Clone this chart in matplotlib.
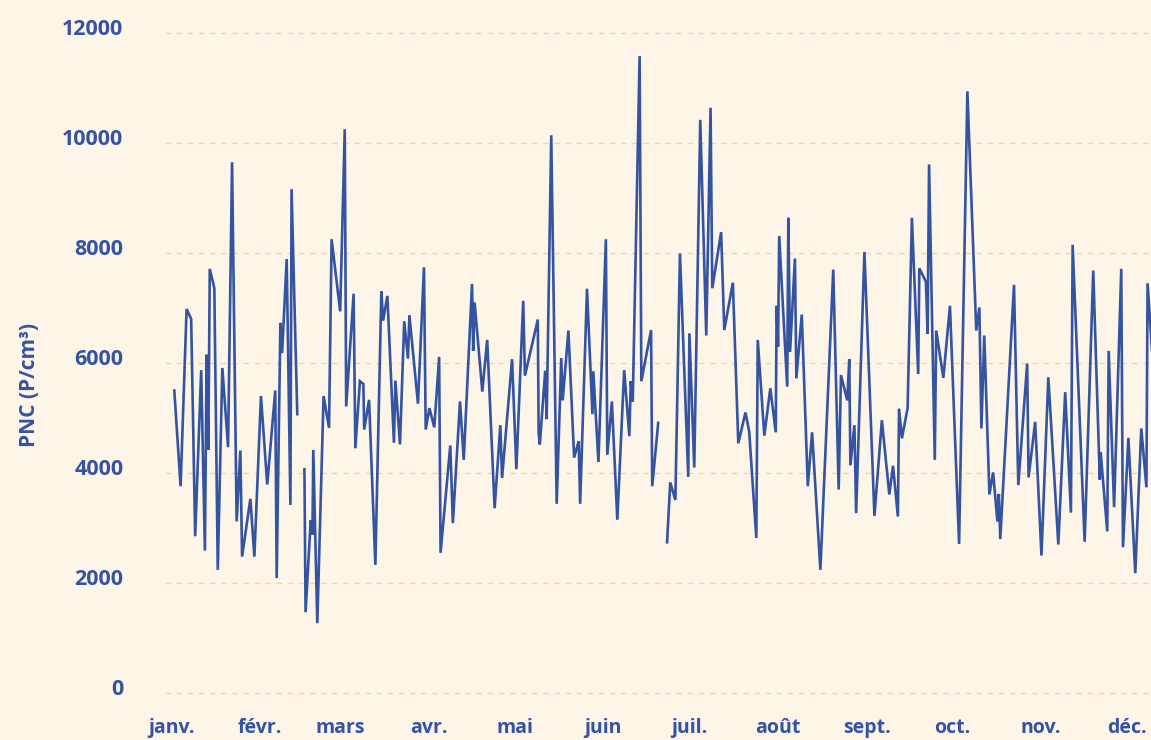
import numpy as np
import matplotlib
matplotlib.use("Agg")
import matplotlib.pyplot as plt
import matplotlib.transforms as mtransforms

# day of year (0 = 1 Jan) and particle number concentration; nan = missing data
days = [
    0.0, 2.2, 4.3, 5.9, 7.3, 9.4, 10.7, 11.3, 11.9, 12.4, 14.0, 15.2, 16.8, 18.8, 20.2,
    21.8, 23.1, 23.7, 26.6, 28.0, 30.3, 32.5, 35.3, 35.8, 37.1, 37.7, 39.3, 40.6, 41.0,
    43.0, 44.2, 45.5, 45.9, 47.7, 48.3, 48.6, 50.0, 52.2, 54.1, 55.0, 58.0, 59.6, 60.1,
    62.7, 63.3, 64.9, 66.1, 66.4, 68.1, 70.3, 72.4, 73.0, 74.5, 76.8, 77.3, 78.9, 80.4,
    81.7, 82.2, 85.2, 87.3, 87.9, 89.2, 90.9, 92.6, 93.1, 96.5, 97.4, 99.9, 101.2, 104.1,
    104.5, 105.0, 107.7, 109.4, 112.0, 114.0, 114.6, 118.1, 119.6, 122.0, 122.6, 127.1,
    127.4, 127.8, 129.7, 130.2, 131.8, 133.7, 135.3, 135.8, 137.8, 139.8, 141.4, 141.9,
    144.3, 146.2, 146.5, 148.3, 150.9, 151.4, 153.0, 154.9, 157.3, 159.1, 159.6, 160.3,
    162.7, 163.3, 166.7, 167.1, 169.2, 170.8, 172.3, 173.4, 175.2, 176.8, 179.7, 180.1,
    181.8, 183.9, 186.0, 187.5, 188.1, 191.2, 192.3, 195.3, 197.2, 199.7, 201.0, 203.5,
    204.0, 206.3, 208.4, 210.3, 210.6, 211.1, 211.5, 214.3, 214.7, 215.3, 217.0, 217.5,
    219.4, 221.5, 223.0, 225.9, 230.4, 232.3, 233.1, 235.3, 236.0, 236.4, 237.8, 238.4,
    241.3, 244.8, 247.4, 250.0, 251.3, 253.0, 253.4, 254.4, 256.4, 257.9, 260.1, 260.5,
    262.8, 263.4, 263.9, 265.9, 266.4, 268.9, 271.2, 274.4, 277.3, 280.4, 281.5, 282.2,
    283.2, 285.0, 286.3, 287.8, 288.3, 288.8, 293.6, 295.1, 298.2, 298.7, 301.0, 303.2,
    305.6, 309.1, 311.5, 313.5, 314.1, 318.3, 321.3, 323.6, 323.9, 326.2, 326.7, 328.6,
    331.1, 331.7, 333.6, 336.0, 338.1, 339.9, 340.3, 342.4,
]
pnc = [
    5500, 3760, 6980, 6800, 2850, 5870, 2590, 6150, 4420, 7710, 7360, 2240, 5910, 4470, 9650,
    3120, 4410, 2480, 3530, 2480, 5400, 3790, 5500, 2090, 6730, 6180, 7890, 3420, 9160,
    5070, np.nan, 4070, 1470, 3140, 2880, 4420, 1270, 5400, 4820, 8250, 6940, 10250, 5210,
    7260, 4450, 5670, 5620, 4790, 5330, 2330, 7300, 6770, 7220, 4550, 5680, 4520, 6760,
    6080, 6870, 5260, 7740, 4790, 5180, 4830, 6110, 2550, 4500, 3090, 5300, 4240, 7440,
    6220, 7100, 5480, 6420, 3360, 4870, 3910, 6070, 4070, 7130, 5770, 6790,
    4730, 4520, 5860, 4980, 10140, 3440, 6090, 5320, 6590, 4280, 4580, 3440,
    7350, 5070, 5850, 4200, 8250, 4330, 5300, 3150, 5870, 4670, 5670, 5300,
    11580, 5670, 6600, 3760, 4910, np.nan, 2740, 3830, 3510, 7990, 3930, 6540,
    4100, 10420, 6500, 10640, 7360, 8380, 6600, 7460, 4540, 5100, 4760, 2820,
    6420, 4680, 5540, 4740, 7040, 6300, 8310, 5570, 8640, 6200, 7900, 5720,
    6880, 3760, 4740, 2240, 7700, 3700, 5780, 5320, 6070, 4140, 4870, 3270,
    8020, 3220, 4960, 3610, 4130, 3210, 5170, 4630, 5180, 8640, 5800, 7720,
    7480, 6530, 9610, 4240, 6590, 5730, 7040, 2710, 10940, 6590, 7010, 4810,
    6500, 3610, 4010, 3120, 3620, 2800, 7420, 3780, 5990, 3920, 4930, 2500,
    5740, 2700, 5470, 3280, 8150, 2750, 7680, 3880, 4380, 2940, 6220, 3380,
    7710, 2650, 4640, 2180, 4810, 3740, 7450, 5800,
]

month_starts = [0, 31, 59, 90, 120, 151, 181, 212, 243, 273, 304, 334]
month_labels = ["janv.", "févr.", "mars", "avr.", "mai", "juin",
                "juil.", "août", "sept.", "oct.", "nov.", "déc."]
y_ticks = [0, 2000, 4000, 6000, 8000, 10000, 12000]

bg = "#fdf5e8"
blue = "#3453a1"
plt.rcParams['font.family'] = ['Open Sans', 'DejaVu Sans']

fig = plt.figure(figsize=(11.51, 7.4), dpi=100, facecolor=bg)
ax = fig.add_axes([165 / 1151, 40 / 740, 1 - 165 / 1151, 700 / 740])
ax.set_facecolor(bg)

ax.plot(days, pnc, color=blue, lw=1.9, solid_joinstyle='miter')

ax.set_xlim(-3.25, 341.5)
ax.set_ylim(-127, 12600)

ax.set_yticks(y_ticks)
ax.set_yticklabels([str(v) for v in y_ticks], fontsize=15.5, fontweight='bold', color=blue)
ax.set_xticks(month_starts)
ax.set_xticklabels(month_labels, fontsize=14, fontweight='bold', color=blue)
ax.tick_params(axis='both', length=0)
ax.tick_params(axis='y', pad=30)
ax.tick_params(axis='x', pad=13)

# y labels sit slightly above their gridline, month labels a touch left
y_off = mtransforms.ScaledTranslation(0, 4 / 72, fig.dpi_scale_trans)
for lab in ax.get_yticklabels():
    lab.set_transform(lab.get_transform() + y_off)
x_off = mtransforms.ScaledTranslation(-2 / 72, 0, fig.dpi_scale_trans)
for lab in ax.get_xticklabels():
    lab.set_transform(lab.get_transform() + x_off)

ax.grid(axis='y', color='#f8d49c', linestyle=(0, (4, 4)), lw=1.0)
ax.grid(axis='x', visible=False)
for s in ax.spines.values():
    s.set_visible(False)

ax.set_ylabel("PNC (P/cm³)", fontsize=15, fontweight='bold', color=blue)
ax.yaxis.set_label_coords(-125 / 986, 0.45)

fig.savefig("out.png", dpi=100, facecolor=bg)
